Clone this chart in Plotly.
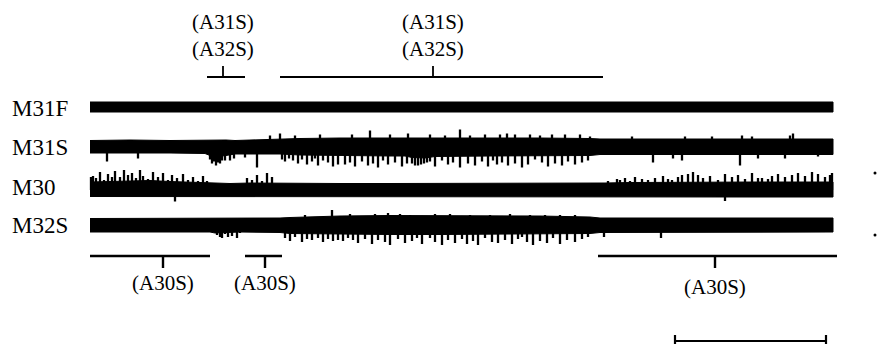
import plotly.graph_objects as go

# ---------------- data (time in ms, amplitudes in display units) ----------------
channels = ["M31F", "M31S", "M30", "M32S"]

# band envelopes: knot times, half-widths above (up) and below (dn) the baseline
m31f_t  = [0, 60, 130, 200, 280, 360, 440, 520, 600, 680, 743]
m31f_up = [5, 5, 5.5, 5, 5, 5.5, 5, 5, 5.5, 5, 5]
m31f_dn = [5, 5.5, 5, 5, 5.5, 5, 5, 5.5, 5, 5, 5]

m31s_t  = [0, 40, 80, 115, 120, 128, 136, 145, 160, 190, 210, 250, 300, 315, 322, 335, 345, 400, 450, 500, 510, 560, 620, 680, 743]
m31s_up = [6, 6.5, 6, 6.5, 6.5, 6.5, 6.5, 6, 6.5, 7, 8, 8.5, 9, 8.5, 8.5, 8.5, 8.5, 9, 8.5, 8, 7.5, 7.5, 7.5, 7.5, 7.5]
m31s_dn = [6.5, 6.5, 6.5, 7, 9, 10, 9, 7.5, 7, 7.5, 8.5, 9, 9.5, 9.5, 11, 11.5, 10, 9.5, 9, 9, 8, 8, 8, 8, 8]

m30_t  = [0, 20, 40, 60, 80, 100, 120, 140, 160, 200, 250, 300, 400, 500, 515, 540, 600, 660, 743]
m30_up = [8, 8.5, 9.5, 9.5, 8.5, 8, 7, 6.5, 7, 6.5, 6.5, 6.5, 6.5, 6.5, 7, 7.5, 8, 8, 8]
m30_dn = [6.5, 7, 6.5, 6.5, 7, 6.5, 6.5, 6.5, 6.5, 6.5, 6.5, 6.5, 6.5, 6.5, 6.5, 7, 7, 7, 7]

m32s_t  = [0, 60, 120, 125, 150, 190, 200, 250, 300, 350, 400, 450, 500, 510, 560, 620, 680, 743]
m32s_up = [6.5, 6.5, 6.5, 6.5, 6.5, 7, 7.5, 9, 9.5, 9.5, 9, 9, 8, 7, 7, 7, 7, 7]
m32s_dn = [7, 7, 7, 8, 7, 7.5, 8.5, 9, 9.5, 9.5, 9.5, 9, 8.5, 7.5, 7, 7, 7, 7]

# spikes: times and signed peak amplitudes (negative = downward)
m31s_spk_t = [17, 48, 120, 122, 124, 126, 128, 130, 132, 135, 140, 144, 155, 167,
              192, 195, 199, 203, 208, 212, 217, 222, 225, 228, 233, 238, 243, 248,
              255, 260, 265, 272, 278, 283, 288, 293, 298, 305, 312, 317, 322, 325, 328, 331, 334,
              337, 340, 345, 352, 358, 363, 370, 378, 385, 392, 398, 403, 407, 412, 418, 425, 432,
              438, 445, 452, 458, 465, 472, 478, 485, 492, 498,
              180, 190, 205, 230, 262, 280, 300, 318, 340, 355, 370, 380, 395, 410, 417, 425, 440,
              450, 462, 475, 490, 500,
              563, 583, 592, 650, 668, 695, 728, 542, 595, 622, 652, 662, 700, 703]
m31s_spk_a = [-15, -12, -13, -17, -15, -19, -16, -17, -14, -14, -14, -12, -11, -21,
              -13, -15, -12, -14, -17, -13, -18, -15, -12, -19, -14, -16, -20, -18,
              -18, -16, -20, -15, -19, -17, -21, -14, -18, -16, -20, -17, -17, -19, -19, -18, -17,
              -16, -15, -20, -14, -18, -16, -21, -17, -19, -15, -20, -14, -18, -16, -19, -17, -21,
              -18, -13, -16, -20, -17, -19, -15, -18, -16, -14,
              11, 13, 11, 12, 12, 16, 12, 13, 12, 11, 17, 11, 12, 12, 13, 12, 12,
              11, 12, 12, 12, 10,
              -16, -12, -14, -19, -12, -12, -10, 10, 10, 10, 11, 10, 11, 13]

m30_spk_t = [1, 3, 6, 10, 14, 18, 22, 25, 30, 34, 38, 42, 46, 50, 53, 58, 63, 68, 73, 78, 82, 87,
             93, 98, 103, 108, 113, 117, 85,
             157, 162, 167, 172, 177, 182,
             518, 527, 530, 535, 540, 545, 552, 558, 565, 573, 578, 582, 588, 592, 598, 603, 608,
             613, 620, 628, 635, 642, 648, 655, 662, 668, 672, 678, 682, 688, 695, 702, 708,
             715, 722, 728, 735, 740, 742, 635]
m30_spk_a = [13, 14, 12, 18, 10, 16, 13, 19, 13, 20, 15, 17, 12, 20, 14, 11, 18, 13, 17, 10, 15, 12,
             16, 10, 13, 9, 14, 9, -11.5,
             12, 10, 15, 9, 17, 13,
             9, 11, 10, 12, 9, 13, 11, 10, 12, 14, 11, 10, 13, 15, 16, 18, 15,
             12, 14, 10, 16, 13, 15, 11, 17, 12, 12, 11, 14, 16, 13, 15, 17,
             14, 18, 16, 13, 15, 17, -11]

m32s_spk_t = [127, 130, 132, 135, 138, 142, 147, 150,
              195, 200, 205, 212, 217, 222, 228, 233, 238, 243, 248, 242,
              253, 258, 263, 268, 275, 282, 288, 295, 300, 308, 315, 322, 327, 332, 340, 345, 352,
              358, 365, 372, 377, 383, 388, 395, 402, 408, 415, 422, 428, 432, 437, 443, 450, 457,
              463, 470, 477, 485, 492, 498,
              215, 260, 285, 298, 310, 320, 345, 360, 380, 400, 420, 440, 455, 470, 485,
              514, 571]
m32s_spk_a = [-10, -12, -13, -9, -12, -11, -13, -8,
              -13, -16, -12, -17, -14, -15, -13, -17, -14, -16, -15, 15,
              -16, -13, -15, -18, -14, -19, -15, -17, -20, -14, -18, -16, -13, -19, -13, -17, -20,
              -15, -18, -14, -19, -16, -20, -13, -17, -18, -15, -19, -14, -12, -17, -20, -16, -18,
              -13, -19, -15, -17, -14, -12,
              10, 11, 11, 12, 11, 10, 11, 11, 10, 10, 11, 10, 10, 10, 10,
              -12, -13]

# stimulus/activity bars: start, end, marker time
top_bar_start = [117, 190]
top_bar_end   = [155, 513]
top_bar_mark  = [133, 343]
top_labels    = ["(A31S)", "(A32S)"]

bot_bar_start = [0, 155, 508]
bot_bar_end   = [120, 192, 747]
bot_bar_mark  = [73, 175, 625]
bot_label     = "(A30S)"

scale_bar_ms = [585, 736]

# ---------------- layout positions / styles ----------------
baselines = {"M31F": 237, "M31S": 197.5, "M30": 154, "M32S": 119}
label_y   = {"M31F": 236, "M31S": 197, "M30": 157, "M32S": 119}
env = {
    "M31F": (m31f_t, m31f_up, m31f_dn),
    "M31S": (m31s_t, m31s_up, m31s_dn),
    "M30":  (m30_t, m30_up, m30_dn),
    "M32S": (m32s_t, m32s_up, m32s_dn),
}
spk = {
    "M31S": (m31s_spk_t, m31s_spk_a),
    "M30":  (m30_spk_t, m30_spk_a),
    "M32S": (m32s_spk_t, m32s_spk_a),
}
INK = "black"
FONT = dict(family="Liberation Serif, Times New Roman, serif", size=21, color=INK)
LABEL_FONT = dict(family="Liberation Serif, Times New Roman, serif", size=23, color=INK)

fig = go.Figure()

for ch in channels:
    b = baselines[ch]
    t, up, dn = env[ch]
    xs = list(t) + list(t)[::-1]
    ys = [b + u for u in up] + [b - d for d in dn][::-1]
    fig.add_trace(go.Scatter(x=xs, y=ys, fill="toself", fillcolor=INK, mode="lines",
                             line=dict(color=INK, width=1), hoverinfo="skip", showlegend=False))
    if ch in spk:
        st, sa = spk[ch]
        sx, sy = [], []
        for ti, ai in zip(st, sa):
            sx += [ti, ti, None]
            sy += [b, b + ai, None]
        fig.add_trace(go.Scatter(x=sx, y=sy, mode="lines", line=dict(color=INK, width=2.3),
                                 hoverinfo="skip", showlegend=False))
    fig.add_annotation(x=-80, y=label_y[ch], xref="x", yref="y", text=ch, showarrow=False,
                       xanchor="left", yanchor="middle", font=LABEL_FONT)

# top bars
TOP_Y, TOP_TICK = 267, 278
for s, e, m in zip(top_bar_start, top_bar_end, top_bar_mark):
    fig.add_trace(go.Scatter(x=[s, e, None, m, m], y=[TOP_Y, TOP_Y, None, TOP_Y, TOP_TICK],
                             mode="lines", line=dict(color=INK, width=1.8),
                             hoverinfo="skip", showlegend=False))
    fig.add_annotation(x=m, y=322, xref="x", yref="y", text=top_labels[0], showarrow=False,
                       xanchor="center", yanchor="middle", font=FONT)
    fig.add_annotation(x=m, y=295, xref="x", yref="y", text=top_labels[1], showarrow=False,
                       xanchor="center", yanchor="middle", font=FONT)

# bottom bars
BOT_Y, BOT_TICK = 88, 76
bot_label_y = [61, 61, 57]
for s, e, m, ly in zip(bot_bar_start, bot_bar_end, bot_bar_mark, bot_label_y):
    fig.add_trace(go.Scatter(x=[s, e, None, m, m], y=[BOT_Y, BOT_Y, None, BOT_Y, BOT_TICK],
                             mode="lines", line=dict(color=INK, width=2.4),
                             hoverinfo="skip", showlegend=False))
    fig.add_annotation(x=m, y=ly, xref="x", yref="y", text=bot_label, showarrow=False,
                       xanchor="center", yanchor="middle", font=FONT)

# scale bar
s0, s1 = scale_bar_ms
fig.add_trace(go.Scatter(x=[s0, s0, None, s0, s1, None, s1, s1], y=[9, -4, None, 3, 3, None, 9, -4],
                         mode="lines", line=dict(color=INK, width=2.2),
                         hoverinfo="skip", showlegend=False))

# small marks at the right margin
fig.add_trace(go.Scatter(x=[785, 785], y=[171, 109], mode="markers",
                         marker=dict(color=INK, size=3), hoverinfo="skip", showlegend=False))

fig.update_xaxes(range=[-90, 787], visible=False, fixedrange=True)
fig.update_yaxes(range=[0, 344], visible=False, fixedrange=True)
fig.update_layout(width=877, height=344, margin=dict(l=0, r=0, t=0, b=0),
                  paper_bgcolor="white", plot_bgcolor="white", showlegend=False)

fig.write_html("out.html", config={"displayModeBar": False})

# remove the default page margin so the figure sits at the window origin
with open("out.html", "r", encoding="utf-8") as f:
    html = f.read()
html = html.replace("<body>", '<body style="margin:0;padding:0;overflow:hidden">', 1)
with open("out.html", "w", encoding="utf-8") as f:
    f.write(html)
